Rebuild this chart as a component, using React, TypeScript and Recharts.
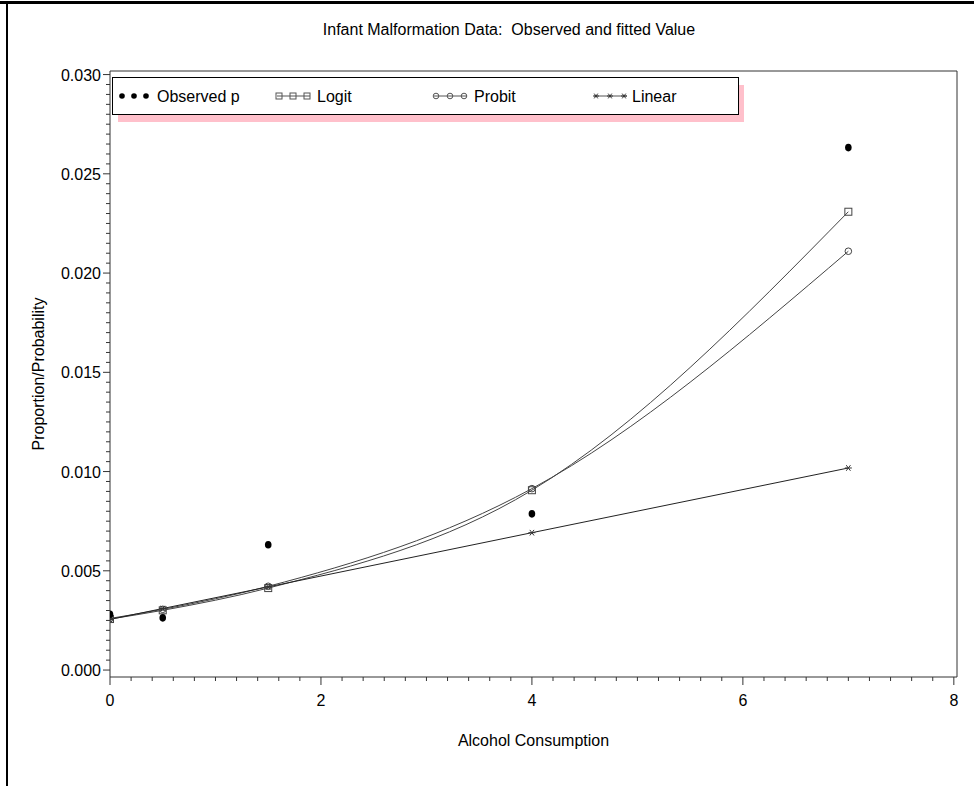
import React from 'react';
import { ComposedChart, Line, XAxis, YAxis, Legend, ReferenceLine } from 'recharts';

// ---- Data ----
const alcohol = [0, 0.5, 1.5, 4, 7];
const observedP = [0.00281, 0.00263, 0.00631, 0.00787, 0.02632];
const logitFit = [0.00257, 0.00301, 0.00413, 0.00906, 0.02309];
const probitFit = [0.0026, 0.00306, 0.00422, 0.00914, 0.0211];
const linearFit = [0.00255, 0.0031, 0.00419, 0.00692, 0.01018];

const seriesNames = ['Observed p', 'Logit', 'Probit', 'Linear'];
const xMajorTicks = [0, 2, 4, 6, 8];
const yMajorTicks = [0, 0.005, 0.01, 0.015, 0.02, 0.025, 0.03];
const xDomain: [number, number] = [0, 8.03];
const yDomain: [number, number] = [-0.00035, 0.03018];

const titleText = 'Infant Malformation Data:  Observed and fitted Value';
const xLabelText = 'Alcohol Consumption';
const yLabelText = 'Proportion/Probability';

const xAllTicks = Array.from({ length: 41 }, (_, i) => +(i * 0.2).toFixed(2));
const yAllTicks = Array.from({ length: 61 }, (_, i) => +(i * 0.0005).toFixed(4));

const data = alcohol.map((x, i) => ({
  x,
  obs: observedP[i],
  logit: logitFit[i],
  probit: probitFit[i],
  linear: linearFit[i],
}));

const FONT = '"Liberation Sans", Arial, Helvetica, sans-serif';
const AX = '#333';

const isMajor = (arr: number[], v: number) => arr.some((t) => Math.abs(t - v) < 1e-7);

const XTick = (props: any) => {
  const { x, y, payload } = props;
  const v = payload.value;
  const major = isMajor(xMajorTicks, v);
  return (
    <g>
      <line x1={x} x2={x} y1={y} y2={y + (major ? 8 : 4)} stroke={AX} strokeWidth={1} />
      {major && (
        <text x={x} y={y + 29} textAnchor="middle" fontSize={16} fontFamily={FONT} fill="#000">
          {String(v)}
        </text>
      )}
    </g>
  );
};

const YTick = (props: any) => {
  const { x, y, payload } = props;
  const v = payload.value;
  const major = isMajor(yMajorTicks, v);
  return (
    <g>
      <line x1={x - (major ? 7 : 4)} x2={x} y1={y} y2={y} stroke={AX} strokeWidth={1} />
      {major && (
        <text x={x - 9} y={y + 6} textAnchor="end" fontSize={16} fontFamily={FONT} fill="#000">
          {v.toFixed(3)}
        </text>
      )}
    </g>
  );
};

const ObsDot = (p: any) => {
  if (p.cx == null || p.cy == null) return <g key={p.key} />;
  return <ellipse key={p.key} cx={p.cx} cy={p.cy} rx={3.3} ry={3.8} fill="#000" />;
};
const SquareDot = (p: any) => {
  if (p.cx == null || p.cy == null) return <g key={p.key} />;
  return <rect key={p.key} x={p.cx - 3.5} y={p.cy - 3.5} width={7} height={7} fill="none" stroke="#444" strokeWidth={1} />;
};
const CircleDot = (p: any) => {
  if (p.cx == null || p.cy == null) return <g key={p.key} />;
  return <circle key={p.key} cx={p.cx} cy={p.cy} r={3.3} fill="none" stroke="#444" strokeWidth={1} />;
};
const StarShape = ({ cx, cy, s }: { cx: number; cy: number; s: number }) => (
  <g stroke="#333" strokeWidth={1}>
    <line x1={cx - s} x2={cx + s} y1={cy} y2={cy} />
    <line x1={cx - s * 0.6} x2={cx + s * 0.6} y1={cy - s * 0.8} y2={cy + s * 0.8} />
    <line x1={cx - s * 0.6} x2={cx + s * 0.6} y1={cy + s * 0.8} y2={cy - s * 0.8} />
  </g>
);
const StarDot = (p: any) => {
  if (p.cx == null || p.cy == null) return <g key={p.key} />;
  return (
    <g key={p.key}>
      <StarShape cx={p.cx} cy={p.cy} s={3.5} />
    </g>
  );
};

const renderLegend = () => {
  const markerStart = [8, 165, 322, 482];
  const textStart = [45, 205, 362, 520];
  const cy = 19;
  return (
    <svg width={640} height={50} style={{ display: 'block', overflow: 'visible' }}>
      <rect x={6} y={8} width={626} height={37} fill="#ffc0cb" />
      <rect x={0.5} y={0.5} width={626} height={37} fill="#fff" stroke="#000" strokeWidth={1} />
      {seriesNames.map((name, i) => {
        const m = markerStart[i];
        const pts = i === 0 ? [m + 2, m + 14, m + 26] : [m + 2, m + 16, m + 30];
        let marks: React.ReactNode = null;
        if (i === 0) {
          marks = pts.map((px, k) => <circle key={k} cx={px} cy={cy} r={2.8} fill="#000" />);
        } else {
          marks = (
            <g>
              <line x1={m} x2={m + 33} y1={cy} y2={cy} stroke="#555" strokeWidth={1} />
              {pts.map((px, k) =>
                i === 1 ? (
                  <rect key={k} x={px - 3} y={cy - 3} width={6} height={6} fill="none" stroke="#555" />
                ) : i === 2 ? (
                  <circle key={k} cx={px} cy={cy} r={2.8} fill="none" stroke="#555" />
                ) : (
                  <StarShape key={k} cx={px} cy={cy} s={3} />
                )
              )}
            </g>
          );
        }
        return (
          <g key={name}>
            {marks}
            <text x={textStart[i]} y={cy + 6} fontSize={16} fontFamily={FONT} fill="#000" style={{ whiteSpace: 'pre' }}>
              {name}
            </text>
          </g>
        );
      })}
    </svg>
  );
};

export default function App() {
  return (
    <div
      style={{
        position: 'absolute',
        left: 0,
        top: 0,
        width: 974,
        height: 786,
        background: '#fff',
        fontFamily: FONT,
        overflow: 'hidden',
      }}
    >
      {/* outer frame (top and left edges visible) */}
      <div style={{ position: 'absolute', left: 0, top: 1, width: 974, height: 3, background: '#000' }} />
      <div style={{ position: 'absolute', left: 6, top: 1, width: 2, height: 785, background: '#000' }} />
      <div
        style={{
          position: 'absolute',
          left: 509 - 300,
          width: 600,
          top: 20,
          textAlign: 'center',
          fontSize: 16,
          lineHeight: '20px',
          whiteSpace: 'pre',
          color: '#000',
        }}
      >
        {titleText}
      </div>
      <ComposedChart
        width={974}
        height={786}
        data={data}
        margin={{ top: 71, right: 17, bottom: 69, left: 50 }}
        style={{ fontFamily: FONT }}
      >
        <XAxis
          dataKey="x"
          type="number"
          domain={xDomain}
          allowDataOverflow
          ticks={xAllTicks}
          interval={0}
          tickSize={0}
          tickMargin={0}
          tick={<XTick />}
          height={40}
          axisLine={{ stroke: AX, strokeWidth: 1 }}
          label={(lp: any) => {
            const vb = lp.viewBox || {};
            return (
              <text
                x={vb.x + vb.width / 2}
                y={vb.y + 69}
                textAnchor="middle"
                fontSize={16}
                fontFamily={FONT}
                fill="#000"
              >
                {xLabelText}
              </text>
            );
          }}
        />
        <YAxis
          type="number"
          domain={yDomain}
          allowDataOverflow
          ticks={yAllTicks}
          interval={0}
          tickSize={0}
          tickMargin={0}
          tick={<YTick />}
          width={60}
          axisLine={{ stroke: AX, strokeWidth: 1 }}
          label={(lp: any) => {
            const vb = lp.viewBox || {};
            const cx = vb.x + vb.width - 72;
            const cy = vb.y + vb.height / 2;
            return (
              <text
                x={cx}
                y={cy}
                transform={`rotate(-90 ${cx} ${cy})`}
                textAnchor="middle"
                dominantBaseline="central"
                fontSize={16}
                fontFamily={FONT}
                fill="#000"
              >
                {yLabelText}
              </text>
            );
          }}
        />
        <ReferenceLine y={yDomain[1]} stroke={AX} strokeWidth={1} />
        <ReferenceLine x={xDomain[1]} stroke={AX} strokeWidth={1} />
        <Legend
          layout="vertical"
          align="center"
          verticalAlign="middle"
          wrapperStyle={{ left: 112, top: 77, width: 640, height: 50 }}
          content={renderLegend}
        />
        <Line
          name={seriesNames[1]}
          dataKey="logit"
          type="monotone"
          stroke="#444"
          strokeWidth={1}
          dot={SquareDot}
          activeDot={false}
          isAnimationActive={false}
        />
        <Line
          name={seriesNames[2]}
          dataKey="probit"
          type="monotone"
          stroke="#444"
          strokeWidth={1}
          dot={CircleDot}
          activeDot={false}
          isAnimationActive={false}
        />
        <Line
          name={seriesNames[3]}
          dataKey="linear"
          type="linear"
          stroke="#222"
          strokeWidth={1}
          dot={StarDot}
          activeDot={false}
          isAnimationActive={false}
        />
        <Line
          name={seriesNames[0]}
          dataKey="obs"
          type="linear"
          stroke="none"
          dot={ObsDot}
          activeDot={false}
          isAnimationActive={false}
        />
      </ComposedChart>
    </div>
  );
}
